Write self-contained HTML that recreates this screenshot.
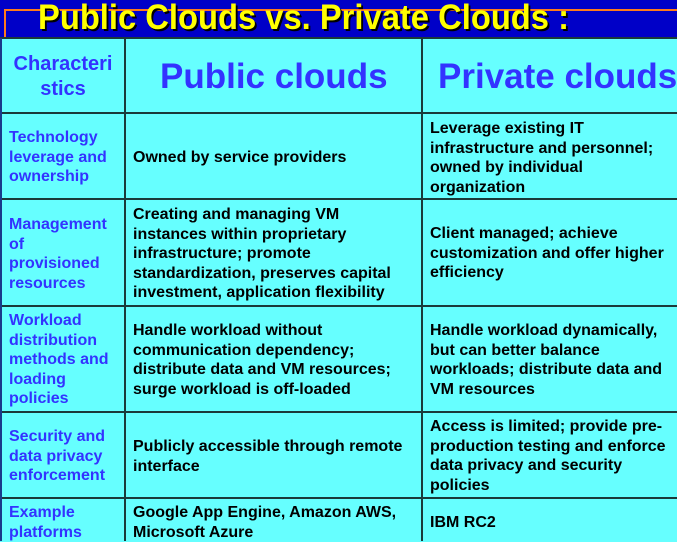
<!DOCTYPE html>
<html><head><meta charset="utf-8"><style>
body{margin:0;width:677px;height:541px;overflow:hidden;background:#66ffff;position:relative;font-family:"Liberation Sans",Arial,sans-serif;font-weight:bold}
.band{position:absolute;left:0;top:0;width:677px;height:38px;background:#0000c8}
.o1{position:absolute;left:4px;top:9px;width:673px;height:2px;background:#ff7a1a}
.o2{position:absolute;left:4px;top:9px;width:2px;height:29px;background:#ff7a1a}
.title{position:absolute;left:38px;top:0px;font-size:35px;color:#ffff00;text-shadow:2px 2px 0 #000;white-space:nowrap;transform-origin:0 0;transform:scaleX(0.935);line-height:36px}
.h{position:absolute;left:0;height:2px;width:677px;background:#1a3a3a}
.v{position:absolute;top:38px;width:2px;height:503px;background:#1a3a3a}
.c{position:absolute;font-size:16px;line-height:19.6px;white-space:nowrap;color:#000}
.l{color:#3333ff}
.hd{position:absolute;color:#3333ff;white-space:nowrap}
</style></head><body>
<div class="band"></div><div class="o1"></div><div class="o2"></div>
<div class="title">Public Clouds vs. Private Clouds :</div>
<div class="h" style="top:37px"></div>
<div class="h" style="top:112px"></div>
<div class="h" style="top:198px"></div>
<div class="h" style="top:305px"></div>
<div class="h" style="top:411px"></div>
<div class="h" style="top:497px"></div>
<div class="v" style="left:0;background:#1a3a8a"></div>
<div class="v" style="left:124px"></div>
<div class="v" style="left:421px"></div>
<div class="hd" style="left:9px;top:52px;font-size:20px;line-height:25px;text-align:center;width:108px">Characteri<br>stics</div>
<div class="hd" style="left:160px;top:57px;font-size:35px;line-height:40px">Public clouds</div>
<div class="hd" style="left:438px;top:57px;font-size:35px;line-height:40px">Private clouds</div>

<div class="c l" style="left:9px;top:128px">Technology<br>leverage and<br>ownership</div>
<div class="c" style="left:133px;top:148px">Owned by service providers</div>
<div class="c" style="left:430px;top:119px">Leverage existing IT<br>infrastructure and personnel;<br>owned by individual<br>organization</div>

<div class="c l" style="left:9px;top:215px">Management<br>of<br>provisioned<br>resources</div>
<div class="c" style="left:133px;top:205px">Creating and managing VM<br>instances within proprietary<br>infrastructure; promote<br>standardization, preserves capital<br>investment, application flexibility</div>
<div class="c" style="left:430px;top:224px">Client managed; achieve<br>customization and offer higher<br>efficiency</div>

<div class="c l" style="left:9px;top:311px">Workload<br>distribution<br>methods and<br>loading<br>policies</div>
<div class="c" style="left:133px;top:321px">Handle workload without<br>communication dependency;<br>distribute data and VM resources;<br>surge workload is off-loaded</div>
<div class="c" style="left:430px;top:321px">Handle workload dynamically,<br>but can better balance<br>workloads; distribute data and<br>VM resources</div>

<div class="c l" style="left:9px;top:427px">Security and<br>data privacy<br>enforcement</div>
<div class="c" style="left:133px;top:437px">Publicly accessible through remote<br>interface</div>
<div class="c" style="left:430px;top:417px">Access is limited; provide pre-<br>production testing and enforce<br>data privacy and security<br>policies</div>

<div class="c l" style="left:9px;top:503px">Example<br>platforms</div>
<div class="c" style="left:133px;top:503px">Google App Engine, Amazon AWS,<br>Microsoft Azure</div>
<div class="c" style="left:430px;top:513px">IBM RC2</div>
</body></html>
